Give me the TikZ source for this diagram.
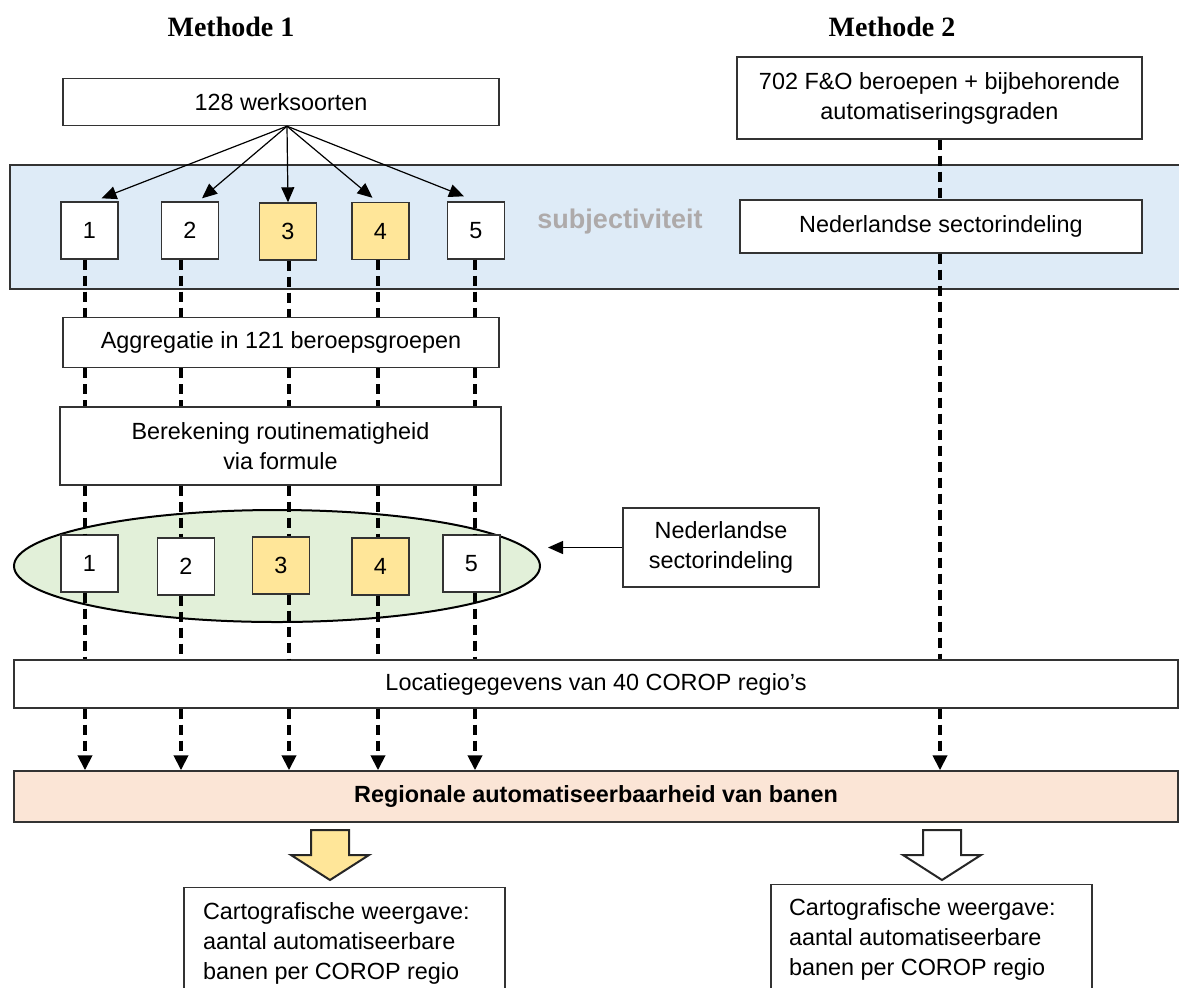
\documentclass[tikz,border=0pt]{standalone}
\usepackage{fontspec}
\setmainfont{Liberation Sans}
\newfontfamily\titlefont{Liberation Serif}
\usetikzlibrary{shapes.geometric,arrows.meta}

\definecolor{bandblue}{RGB}{222,235,247}
\definecolor{boxyellow}{RGB}{255,230,153}
\definecolor{ellgreen}{RGB}{226,240,217}
\definecolor{regpeach}{RGB}{251,229,214}
\definecolor{subgray}{RGB}{174,170,170}

\begin{document}
\begin{tikzpicture}[x=0.5pt, y=-0.5pt,
    every node/.style={font=\fontsize{11.7}{15}\selectfont},
    box/.style={draw=black!80, line width=0.7pt, fill=white, align=center, inner sep=0pt},
    nr/.style={box, minimum width=28.5pt, minimum height=28.5pt},
    flow/.style={line width=1.9pt, dash pattern=on 5pt off 3pt},
    fan/.style={line width=0.6pt, -{Triangle[length=7.5pt,width=6.5pt]}},
    tip/.style={-{Triangle[length=7.5pt,width=7pt]}},
    blk/.style={draw=black!85, line width=1pt, line join=miter},
    outbox/.style={box, inner xsep=9.5pt, inner ysep=7.5pt, anchor=north}]
      \useasboundingbox (0,0) rectangle (1179,987);
      \clip (0,0) rectangle (1179,987);
      % titles
      \node[font=\titlefont\bfseries\fontsize{14}{16}\selectfont] (m1) at (231,27) {Methode 1};
      \node[font=\titlefont\bfseries\fontsize{14}{16}\selectfont] (m2) at (892,27) {Methode 2};
      % blue band
      \node[draw=black!80, line width=0.7pt, fill=bandblue, minimum width=590pt, minimum height=62pt, inner sep=0pt] (band) at (600,227) {};
      \node[font=\bfseries\fontsize{13.5}{16}\selectfont, text=subgray] (subj) at (620,222) {subjectiviteit};
      % top boxes
      \node[box, minimum width=218pt, minimum height=23.5pt] (ws) at (281,102) {128 werksoorten};
      \node[box, minimum width=202.5pt, minimum height=41pt] (fo) at (939.5,98) {702 F\&O beroepen + bijbehorende\\automatiseringsgraden};
      \node[box, minimum width=201pt, minimum height=26.5pt] (ns) at (941,226.5) {Nederlandse sectorindeling};
      \foreach \i/\x/\y/\c in {1/89.5/230.5/white, 2/190/230.5/white, 3/288/231.5/boxyellow,
                               4/380.5/231/boxyellow, 5/476/230.5/white}
        \node[nr, fill=\c] (s\i) at (\x,\y) {\i};
      % fan of arrows
      \coordinate (fan) at ([xshift=3pt]ws.south);
      \draw[fan] (fan) -- ([xshift=6pt,yshift=1.5pt]s1.north);
      \draw[fan] (fan) -- ([xshift=6pt,yshift=1.5pt]s2.north);
      \draw[fan] (fan) -- (s3.north);
      \draw[fan] (fan) -- ([xshift=-4pt,yshift=2pt]s4.north);
      \draw[fan] (fan) -- ([xshift=-6pt,yshift=2.5pt]s5.north);
      % middle boxes
      \node[box, minimum width=218pt, minimum height=25pt] (agg) at (281,342.5) {Aggregatie in 121 beroepsgroepen};
      \node[box, minimum width=220.5pt, minimum height=39pt] (ber) at (280.5,446) {Berekening routinematigheid\\via formule};
      \node[ellipse, draw, line width=1pt, fill=ellgreen, minimum width=263pt, minimum height=56pt, inner sep=0pt] (ell) at (277,566) {};
      \foreach \i/\x/\y/\c in {1/89.5/563.5/white, 2/186/566.5/white, 3/281/565.5/boxyellow,
                               4/380.5/566.5/boxyellow, 5/471.5/563.5/white}
        \node[nr, fill=\c] (r\i) at (\x,\y) {\i};
      \node[box, minimum width=98pt, minimum height=39.5pt] (nsr) at (721,547.5) {Nederlandse\\sectorindeling};
      \draw[fan] (nsr.west) -- ([xshift=3.5pt]ell.east |- nsr.west);
      % bottom boxes
      \node[box, minimum width=582pt, minimum height=24pt] (loc) at (596,684) {Locatiegegevens van 40 COROP regio’s};
      \node[box, fill=regpeach, minimum width=582pt, minimum height=25.5pt,
            font=\bfseries\fontsize{11.7}{15}\selectfont] (reg) at (596,796.5) {Regionale automatiseerbaarheid van banen};
      % dashed flows
      \foreach \i/\x in {1/85, 2/181, 3/289, 4/378, 5/475, 6/940}
        \coordinate (c\i) at (\x,0);
      \foreach \i in {1,...,5} {
        \draw[flow] (s\i.south -| c\i) -- (agg.north -| c\i);
        \draw[flow] (agg.south -| c\i) -- (ber.north -| c\i);
        \draw[flow] (ber.south -| c\i) -- (r\i.north -| c\i);
        \draw[flow] (r\i.south -| c\i) -- (loc.north -| c\i);
        \draw[flow, tip] (loc.south -| c\i) -- (reg.north -| c\i);
      }
      \draw[flow] (fo.south -| c6) -- (ns.north -| c6);
      \draw[flow] (ns.south -| c6) -- (loc.north -| c6);
      \draw[flow, tip] (loc.south -| c6) -- (reg.north -| c6);
      % block arrows
      \draw[blk, fill=boxyellow] (311,830) -- (349,830) -- (349,855) -- (369,855) -- (330,880) -- (291,855) -- (311,855) -- cycle;
      \draw[blk, fill=white] (923,830) -- (961,830) -- (961,855) -- (981,855) -- (942,880) -- (903,855) -- (923,855) -- cycle;
      \node[outbox] (k1) at (344.5,887) {\parbox[t][62pt][t]{141.5pt}{\raggedright Cartografische weergave:\\aantal automatiseerbare\\banen per COROP regio}};
      \node[outbox, inner xsep=9pt, inner ysep=7pt] (k2) at (931.5,884) {\parbox[t][62pt][t]{142.5pt}{\raggedright Cartografische weergave:\\aantal automatiseerbare\\banen per COROP regio}};
\end{tikzpicture}
\end{document}
